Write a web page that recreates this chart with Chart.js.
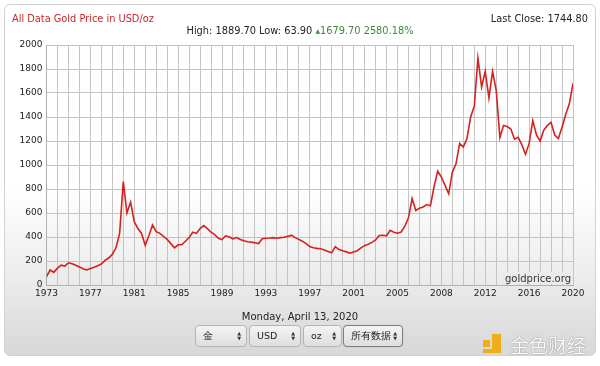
<!DOCTYPE html>
<html>
<head>
<meta charset="utf-8">
<script src="https://cdn.jsdelivr.net/npm/chart.js@4/dist/chart.umd.min.js"></script>
<style>
  html, body { margin:0; padding:0; background:#ffffff; }
  #root { position:relative; width:600px; height:366px; overflow:hidden; font-family:'DejaVu Sans', sans-serif; }
  #widget { position:absolute; left:4px; top:4px; width:590px; height:350px; border:1px solid #d2d2d2; border-radius:6px;
    background:linear-gradient(to bottom, #ffffff 0%, #ffffff 52%, #ececec 78%, #e2e2e2 88%, #d8d8d8 100%); }
  #chart { position:absolute; left:0; top:0; }
  .t { position:absolute; white-space:nowrap; font-size:9.8px; color:#222; }
  #title { left:12px; top:13px; color:#c8282c; }
  #last { right:12px; top:13px; }
  #hl { left:0; width:600px; text-align:center; top:25px; }
  #hl .up { color:#3a8a3a; }
  #hl .tri { font-size:6px; vertical-align:1px; }
  #date { left:0; width:600px; text-align:center; top:311px; font-size:10px; }
  .sel { position:absolute; top:325px; height:22px; box-sizing:border-box; border:1px solid #b4b4b4; border-radius:4px;
    background:linear-gradient(to bottom,#f4f4f4,#dedede); font-size:9.5px; color:#222; }
  .sel .lab { position:absolute; left:7px; top:4px; }
  .sel .arr { position:absolute; right:5px; top:5px; font-size:5px; line-height:5px; color:#333; }
  #s4 { border:1px solid #7d7d7d; box-shadow:0 0 1px #999; }
  #logo { position:absolute; left:483px; top:334px; width:24px; height:20px; }
  #logo .a { position:absolute; left:0; top:6px; width:7px; height:7px; background:#f1ad16; }
  #logo .b { position:absolute; left:9px; top:0; width:9px; height:19px; background:#f1ad16; }
  #logo .c { position:absolute; left:0; top:15px; width:9px; height:4px; background:#f1ad16; }
  #logotxt { position:absolute; left:510px; top:331px; font-family:'Noto Sans CJK SC', sans-serif; font-size:19px; color:#fafafa;
    text-shadow:0 0 1px #888, 0 0 1px #888; letter-spacing:0px; }
</style>
</head>
<body>
<div id="root">
  <div id="widget"></div>
  <canvas id="chart" width="600" height="366"></canvas>
  <div class="t" id="title">All Data Gold Price in USD/oz</div>
  <div class="t" id="last">Last Close: 1744.80</div>
  <div class="t" id="hl">High: 1889.70 Low: 63.90 <span class="up"><span class="tri">▲</span>1679.70 2580.18%</span></div>
  <div class="t" id="date">Monday, April 13, 2020</div>
  <div class="sel" style="left:195px;width:52px;"><span class="lab">金</span><span class="arr">▲<br>▼</span></div>
  <div class="sel" style="left:249px;width:52px;"><span class="lab">USD</span><span class="arr">▲<br>▼</span></div>
  <div class="sel" style="left:303px;width:39px;"><span class="lab">oz</span><span class="arr">▲<br>▼</span></div>
  <div class="sel" id="s4" style="left:343px;width:60px;"><span class="lab">所有数据</span><span class="arr">▲<br>▼</span></div>
  <div id="logo"><div class="a"></div><div class="b"></div><div class="c"></div></div>
  <div id="logotxt">金色财经</div>
</div>
<script>
// Year labels shown under the x axis (one every 12 samples)
const yearLabels = ['1973','1977','1981','1985','1989','1993','1997','2001','2005','2008','2012','2016','2020'];
// Gold price, USD/oz (145 evenly spaced samples)
const goldPrices = [
  70,125,105,140,165,158,185,178,165,150,135,125,
  138,148,160,175,205,225,255,310,430,861,600,690,
  528,470,430,330,410,500,445,430,405,380,345,310,
  335,335,365,395,440,430,470,495,470,440,420,390,
  378,410,400,385,395,380,368,360,357,352,345,385,
  390,392,395,390,395,398,405,415,395,380,365,345,
  320,310,305,302,292,280,268,320,295,285,276,265,
  275,286,310,328,340,355,375,412,415,410,455,440,
  432,442,490,560,720,620,640,650,670,660,820,950,
  900,830,760,940,1010,1180,1150,1220,1400,1490,1890,1650,
  1780,1560,1780,1620,1230,1330,1320,1300,1215,1230,1170,1090,
  1180,1370,1250,1200,1290,1330,1355,1250,1220,1315,1420,1510,
  1680
];
const yTickValues = [0,200,400,600,800,1000,1200,1400,1600,1800,2000];
const samplesPerLabel = 12;
const watermark = 'goldprice.org';

const points = goldPrices.map((v,i)=>({x:i, y:v}));

const watermarkPlugin = {
  id:'wm',
  afterDatasetsDraw(chart){
    const {ctx, chartArea} = chart;
    ctx.save();
    ctx.font = '10px "DejaVu Sans"';
    const w = ctx.measureText(watermark).width;
    const r = chartArea.right - 2, b = chartArea.bottom - 1;
    ctx.fillStyle = '#ebebeb';
    ctx.fillRect(r - w - 2, b - 12, w + 2, 12);
    ctx.fillStyle = '#333';
    ctx.textAlign = 'right';
    ctx.textBaseline = 'bottom';
    ctx.fillText(watermark, r, b);
    ctx.restore();
  }
};

Chart.defaults.font.family = "'DejaVu Sans', sans-serif";
Chart.defaults.font.size = 9;
Chart.defaults.color = '#222';

new Chart(document.getElementById('chart'), {
  type:'line',
  data:{ datasets:[{ data:points, borderColor:'#d6201e', borderWidth:1.6, pointRadius:0, tension:0, fill:false }] },
  options:{
    responsive:false, animation:false,
    layout:{ padding:{ left:0, top:45, right:27, bottom:61 } },
    plugins:{ legend:{display:false}, tooltip:{enabled:false} },
    scales:{
      x:{
        type:'linear', min:0, max:goldPrices.length-1,
        afterFit(s){ s.height = 20; },
        grid:{ color:'#c4c4c4', lineWidth:1, drawTicks:false },
        border:{ color:'#b0b0b0' },
        ticks:{ stepSize:3, autoSkip:false, maxRotation:0, padding:3, color:'#222',
          callback:(v)=> v % samplesPerLabel === 0 ? yearLabels[v / samplesPerLabel] : '' }
      },
      y:{
        min:0, max:2000,
        afterFit(s){ s.width = 46.5; },
        afterBuildTicks(s){ s.ticks = yTickValues.map(v=>({value:v})); },
        grid:{ color:'#c4c4c4', lineWidth:1, drawTicks:false },
        border:{ color:'#b0b0b0' },
        ticks:{ padding:4, color:'#222', callback:(v)=> String(v) }
      }
    }
  },
  plugins:[watermarkPlugin]
});
</script>
</body>
</html>
